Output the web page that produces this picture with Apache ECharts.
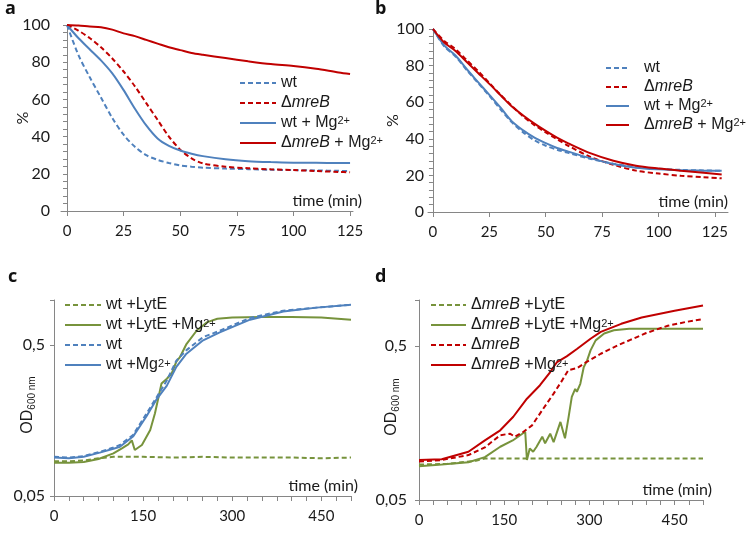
<!DOCTYPE html>
<html><head><meta charset="utf-8">
<script src="https://cdn.jsdelivr.net/npm/echarts@6/dist/echarts.min.js"></script>
<style>html,body{margin:0;padding:0;background:#fff}#c{width:749px;height:536px}</style>
</head><body><div id="c"></div>
<script>
// ---------- panel a ----------
const tA = [0,5,10,15,20,25,30,35,40,45,50,55,60,70,80,90,100,110,120,125];
const aWt = [100,84,72,61,50,41,34.5,30,27.5,25.8,24.5,23.8,23.3,22.8,22.5,22.2,22,21.8,21.6,21.5];
const aMreB = [100,97,93,88,82,75,67,58,49,40,33,28.3,25.6,23.8,23,22.4,22,21.5,21,20.8];
const aWtMg = [100,93,87,81,74,65,55,46,39,35,32.5,30.8,29.5,27.8,26.8,26.3,26,25.9,25.8,25.8];
const aMreBMg = [100,99.7,99.2,98.8,97.5,95.5,94,92,90,88,86.5,85,84,82.2,80.5,79,78,76.5,74.5,73.7];
// ---------- panel b ----------
const tB = [0,5,10,15,20,25,30,35,40,45,50,55,60,70,80,90,100,110,120,128];
const bWt = [100,90.5,85,77.5,70.5,63.5,56,49,43.5,39.2,36.2,34,32.3,29,26.4,24.5,23.6,23,22.7,22.5];
const bMreB = [100,93.5,89,83,77,70.5,64,58,52.2,47.5,43.5,39.8,36.2,30,25.8,22.6,21,19.8,19,18.4];
const bWtMg = [100,91,85.5,78,71,64,57,49.5,44.6,40.6,37.6,35,33,29.3,26.2,24.2,23.3,22.8,22.6,22.5];
const bMreBMg = [100,92.6,88,82,76,70,63.8,57.6,52.7,48.3,44.3,40.6,37.5,32,28,25.3,23.8,22.6,21.5,20.5];
// ---------- panel c ----------
const tCLytE = [0,25,50,75,100,150,200,250,300,350,400,450,500];
const cLytE = [0.085,0.085,0.086,0.089,0.091,0.091,0.09,0.091,0.09,0.09,0.09,0.089,0.09];
const tCLytEMg = [0,25,50,75,100,115,125,131,136,148,162,170,176,181,190,198,206,212,223,240,257,275,300,350,400,450,500];
const cLytEMg = [0.083,0.083,0.084,0.088,0.096,0.104,0.110,0.117,0.101,0.109,0.137,0.177,0.227,0.279,0.30,0.325,0.39,0.417,0.51,0.625,0.71,0.75,0.765,0.77,0.77,0.765,0.74];
const tCWt = [0,25,50,77,100,111,133,156,173,190,206,223,251,279,330,386,442,500];
const cWt = [0.091,0.090,0.092,0.098,0.105,0.109,0.127,0.177,0.227,0.293,0.396,0.465,0.567,0.625,0.76,0.85,0.89,0.93];
const cWtMg = [0.090,0.089,0.091,0.097,0.103,0.106,0.124,0.17,0.22,0.27,0.36,0.44,0.54,0.61,0.74,0.84,0.89,0.93];
// ---------- panel d ----------
const tDLytE = [0,50,100,116,150,200,250,300,350,400,450,500];
const dLytE = [0.085,0.086,0.09,0.093,0.093,0.093,0.093,0.093,0.093,0.093,0.093,0.093];
const tDLytEMg = [0,40,87,116,143,165,187,190,192,195,201,207,217,222,231,237,249,257,263,269,275,278,284,290,296,302,311,326,343,370,420,500];
const dLytEMg = [0.083,0.085,0.088,0.095,0.111,0.122,0.139,0.091,0.089,0.108,0.103,0.111,0.129,0.117,0.135,0.119,0.161,0.126,0.170,0.234,0.264,0.253,0.285,0.365,0.405,0.47,0.546,0.605,0.635,0.65,0.65,0.65];
const tDMreB = [0,40,87,116,143,160,169,184,199,219,237,252,263,278,290,320,349,372,400,438,470,500];
const dMreB = [0.089,0.091,0.098,0.11,0.132,0.135,0.129,0.139,0.153,0.197,0.246,0.30,0.35,0.36,0.385,0.447,0.505,0.55,0.61,0.68,0.72,0.75];
const tDMreBMg = [0,40,87,116,143,166,190,213,231,243,260,278,302,320,356,392,450,500];
const dMreBMg = [0.091,0.092,0.103,0.122,0.142,0.174,0.228,0.279,0.34,0.395,0.43,0.48,0.56,0.62,0.70,0.77,0.85,0.92];
// ---------- ticks ----------
const xTicksAB = [0,25,50,75,100,125];
const xLabelsCD = [0,150,300,450];
const yLabelsCD = [0.05, 0.5];

const BLUE = '#4f81bd', RED = '#c00000', GREEN = '#77933c', AX = '#868686', TX = '#1a1a1a';
const AF = 'Lato, "Open Sans", sans-serif';
const LF = '"Liberation Sans", Arial, sans-serif';

const LBL = {
  a1: '{n|wt}', a2: '{n|Δ}{i|mreB}', a3: '{n|wt + Mg}{s|2+}', a4: '{n|Δ}{i|mreB}{n| + Mg}{s|2+}',
  b1: '{g|}{n|wt}', b2: '{g|}{n|Δ}{i|mreB}', b3: '{g|}{n|wt + Mg}{s|2+}', b4: '{g|}{n|Δ}{i|mreB}{n| + Mg}{s|2+}',
  c1: '{n|wt +LytE}', c2: '{n|wt +LytE +Mg}{s|2+}', c3: '{n|wt}', c4: '{n|wt +Mg}{s|2+}',
  d1: '{n|Δ}{i|mreB}{n| +LytE}', d2: '{n|Δ}{i|mreB}{n| +LytE +Mg}{s|2+}', d3: '{n|Δ}{i|mreB}', d4: '{n|Δ}{i|mreB}{n| +Mg}{s|2+}'
};
function rich(lh) {
  return {
    n: {fontFamily: LF, fontSize: 16, color: TX, lineHeight: lh},
    i: {fontFamily: LF, fontSize: 16, fontStyle: 'italic', color: TX, lineHeight: lh},
    s: {fontFamily: LF, fontSize: 11, color: TX, lineHeight: 11, verticalAlign: 'top'},
    g: {width: 10, lineHeight: lh}
  };
}

function line(name, t, v, color, dashed, idx, smooth) {
  return {
    name, type: 'line', xAxisIndex: idx, yAxisIndex: idx,
    data: t.map((x, i) => [x, v[i]]),
    symbol: 'none', showSymbol: false, smooth: smooth || false,
    lineStyle: {color, width: 2, type: dashed ? [5, 3] : 'solid'},
    itemStyle: {color}, silent: true
  };
}

function xAB(grid, min, max, gap) {
  return {
    gridIndex: grid, type: 'value', min, max,
    axisLine: {onZero: false, lineStyle: {color: AX, width: 1}},
    axisTick: {customValues: xTicksAB, length: 5, lineStyle: {color: AX}},
    axisLabel: {customValues: xTicksAB, margin: 13, fontSize: 15, fontFamily: AF, color: TX},
    splitLine: {show: false},
    name: 'time (min)', nameLocation: 'end', nameGap: gap, nameMoveOverlap: false,
    nameTextStyle: {fontSize: 16, fontFamily: AF, color: TX, align: 'right', verticalAlign: 'bottom', padding: [0, 0, 2, 0]}
  };
}
function xCD(grid, gap) {
  return {
    gridIndex: grid, type: 'value', min: 0, max: 500, interval: 25,
    axisLine: {onZero: false, lineStyle: {color: AX, width: 1}},
    axisTick: {length: 5, lineStyle: {color: AX}},
    axisLabel: {margin: 13, fontSize: 15, fontFamily: AF, color: TX,
      formatter: v => xLabelsCD.indexOf(v) >= 0 ? String(v) : ''},
    splitLine: {show: false},
    name: 'time (min)', nameLocation: 'end', nameGap: gap, nameMoveOverlap: false,
    nameTextStyle: {fontSize: 16, fontFamily: AF, color: TX, align: 'right', verticalAlign: 'bottom', padding: [0, 0, 2, 0]}
  };
}
function yAB(grid, margin, gap) {
  return {
    gridIndex: grid, type: 'value', min: 0, max: 100, interval: 20,
    axisLine: {show: true, lineStyle: {color: AX, width: 1}},
    axisTick: {show: true, length: 4, lineStyle: {color: AX}},
    minorTick: {show: true, splitNumber: 5, length: 4, lineStyle: {color: AX}},
    axisLabel: {margin, fontSize: 16, fontFamily: AF, color: TX},
    splitLine: {show: false},
    name: '%', nameLocation: 'middle', nameGap: gap, nameMoveOverlap: false,
    nameTextStyle: {fontSize: 16, fontFamily: AF, color: TX}
  };
}
function labelCD(v) {
  for (const L of yLabelsCD) {
    if (Math.abs(v - L) / L < 0.02) return String(L).replace('.', ',');
  }
  return '';
}
function yCD(grid, margin, gap) {
  return {
    gridIndex: grid, type: 'log', logBase: 10, min: 0.05, max: 1, interval: 1,
    axisLine: {show: true, lineStyle: {color: AX, width: 1}},
    axisTick: {show: true, length: 4, lineStyle: {color: AX}},
    axisLabel: {margin, fontSize: 16, fontFamily: AF, color: TX, formatter: labelCD},
    splitLine: {show: false},
    name: '{o|OD}{b|600 nm}', nameLocation: 'middle', nameGap: gap, nameMoveOverlap: false,
    nameTextStyle: {padding: [0, 14, 0, 0], rich: {
      o: {fontSize: 16, fontFamily: LF, color: TX, lineHeight: 18},
      b: {fontSize: 10, fontFamily: LF, color: TX, lineHeight: 10, verticalAlign: 'bottom'}
    }}
  };
}
function legend(names, left, top, iw, gap, lh) {
  return {
    data: names, orient: 'vertical', left, top, padding: 0,
    itemWidth: iw, itemHeight: lh, itemGap: gap, selectedMode: false,
    itemStyle: {opacity: 0, borderWidth: 0},
    formatter: n => LBL[n],
    textStyle: {fontFamily: LF, fontSize: 16, color: TX, lineHeight: lh, rich: rich(lh)}
  };
}
function title(text, left, top) {
  return {text, left, top, padding: 0, textStyle: {fontFamily: '"Open Sans", sans-serif', fontSize: 18, fontWeight: 'bold', color: '#111'}};
}

const option = {
  animation: false,
  backgroundColor: '#fff',
  title: [title('a', 5, 0), title('b', 375, 0), title('c', 8, 268), title('d', 375, 268)],
  grid: [
    {left: 61, top: 25, width: 292, height: 186},
    {left: 428, top: 29, width: 300, height: 183},
    {left: 54, top: 300, width: 297, height: 196},
    {left: 419, top: 300, width: 284, height: 200}
  ],
  xAxis: [xAB(0, -2.65, 126.3, 9), xAB(1, -2.2, 130.8, 0), xCD(2, 7), xCD(3, 9)],
  yAxis: [yAB(0, 11, 30), yAB(1, 4, 27), yCD(2, 9, 17), yCD(3, 12, 18)],
  legend: [
    legend(['a1', 'a2', 'a3', 'a4'], 239, 75, 36, 4, 16),
    legend(['b1', 'b2', 'b3', 'b4'], 605, 60, 23, 3, 16),
    legend(['c1', 'c2', 'c3', 'c4'], 64, 297, 36, 4, 14),
    legend(['d1', 'd2', 'd3', 'd4'], 430, 297, 35, 4, 14)
  ],
  series: [
    line('a1', tA, aWt, BLUE, true, 0, 0.3),
    line('a2', tA, aMreB, RED, true, 0, 0.3),
    line('a3', tA, aWtMg, BLUE, false, 0, 0.3),
    line('a4', tA, aMreBMg, RED, false, 0, 0.3),
    line('b1', tB, bWt, BLUE, true, 1, 0.3),
    line('b2', tB, bMreB, RED, true, 1, 0.3),
    line('b3', tB, bWtMg, BLUE, false, 1, 0.3),
    line('b4', tB, bMreBMg, RED, false, 1, 0.3),
    line('c1', tCLytE, cLytE, GREEN, true, 2),
    line('c2', tCLytEMg, cLytEMg, GREEN, false, 2),
    line('c3', tCWt, cWt, BLUE, true, 2),
    line('c4', tCWt, cWtMg, BLUE, false, 2),
    line('d1', tDLytE, dLytE, GREEN, true, 3),
    line('d2', tDLytEMg, dLytEMg, GREEN, false, 3),
    line('d3', tDMreB, dMreB, RED, true, 3),
    line('d4', tDMreBMg, dMreBMg, RED, false, 3)
  ]
};
const chart = echarts.init(document.getElementById('c'));
chart.setOption(option);
</script>
</body></html>
